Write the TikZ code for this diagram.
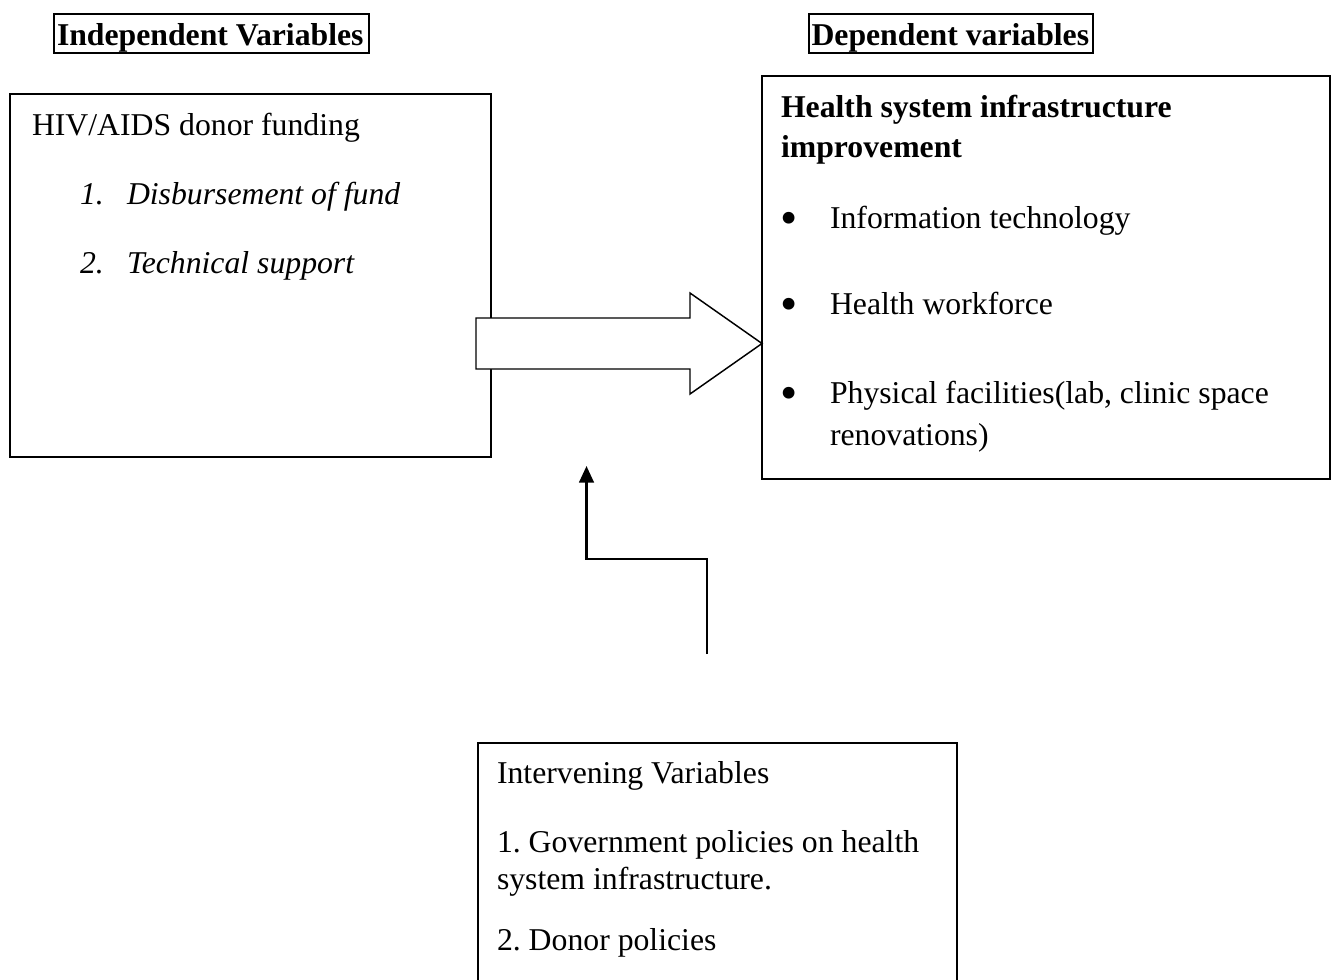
\documentclass[tikz,border=0pt]{standalone}
\usepackage{fontspec}
\setmainfont{Liberation Serif}
\usetikzlibrary{fit,calc,arrows.meta}
\begin{document}
\begin{tikzpicture}[x=0.75pt, y=-0.75pt,
  every node/.style={inner sep=0pt, outer sep=0pt},
  txt/.style={anchor=base west, font=\fontsize{23.8}{28}\selectfont},
  btxt/.style={txt, font=\fontsize{23.8}{28}\selectfont\bfseries},
  itxt/.style={txt, font=\fontsize{23.8}{28}\selectfont\itshape},
  bul/.style={anchor=base, font=\fontsize{23.8}{28}\selectfont},
  frame/.style={draw, line width=1.1pt, fit={#1}},
  hframe/.style={draw, line width=1.5pt, fit={#1}},
  blockarrow/.style={draw, fill=white, line width=1.1pt, line join=miter},
  elbow/.style={draw, line width=1.9pt, -{Triangle[length=12.5pt,width=11pt]}}
]
\clip (0,0) rectangle (1333,979);
\fill[white] (0,0) rectangle (1333,979);
\newcommand{\bigbullet}{\raisebox{-4.5pt}{\scalebox{1.55}{\textbullet}}}

% headers
\node[hframe={(54,14) (369,53)}] (hI) {};
\node[btxt] (hItext) at (57,45) {Independent Variables};
\node[hframe={(809,14) (1093,53)}] (hD) {};
\node[btxt] (hDtext) at (811.5,45) {Dependent variables};

% independent box
\node[frame={(10,94) (491,457)}] (indep) {};
\node[txt] (i0) at (32,135) {HIV/AIDS donor funding};
\node[itxt] (i1n) at (80,204) {1.};
\node[itxt] (i1) at (127,204) {Disbursement of fund};
\node[itxt] (i2n) at (80,273) {2.};
\node[itxt] (i2) at (127,273) {Technical support};

% dependent box
\node[frame={(762,76) (1330,479)}] (dep) {};
\node[btxt] (d0) at (781,117) {Health system infrastructure};
\node[btxt] (d0b) at (781,157) {improvement};
\node[bul] (b1) at (789,228) {\bigbullet};
\node[txt] (d1) at (830,228) {Information technology};
\node[bul] (b2) at (789,314) {\bigbullet};
\node[txt] (d2) at (830,314) {Health workforce};
\node[bul] (b3) at (789,403) {\bigbullet};
\node[txt] (d3) at (830,403) {Physical facilities(lab, clinic space};
\node[txt] (d3b) at (830,445) {renovations)};

% intervening box
\node[frame={(478,743) (957,1010)}] (interv) {};
\node[txt] (v0) at (497,783) {Intervening Variables};
\node[txt] (v1) at (497,852) {1.\ Government policies on health};
\node[txt] (v1b) at (497,889) {system infrastructure.};
\node[txt] (v2) at (497,950) {2.\ Donor policies};

% block arrow
\coordinate (tail) at (476,343.5);
\coordinate (tip) at (dep.west |- tail);
\draw[blockarrow] ($(tail)+(0,-25.5)$) -- ($(tip)+(-72,-25.5)$) -- ($(tip)+(-72,-50.5)$) -- (tip)
  -- ($(tip)+(-72,50.5)$) -- ($(tip)+(-72,25.5)$) -- ($(tail)+(0,25.5)$) -- cycle;

% elbow arrow
\coordinate (inStart) at (707,654);
\coordinate (inEnd) at (586.5,466);
\draw[elbow] (inStart) -- ++(0,-95) -| (inEnd);
\end{tikzpicture}
\end{document}
